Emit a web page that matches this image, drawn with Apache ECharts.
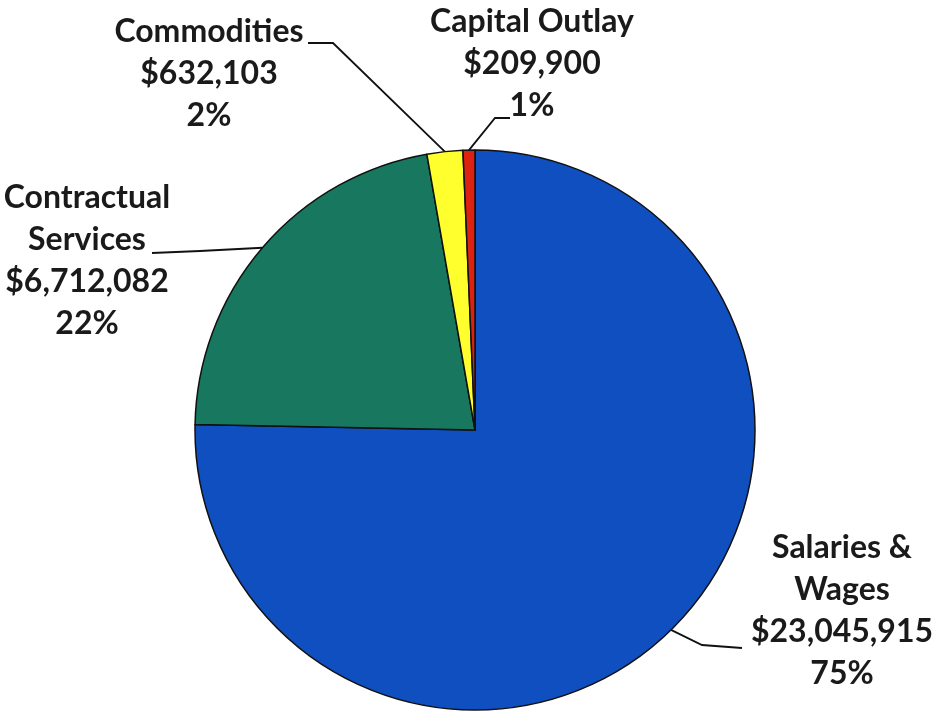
<!DOCTYPE html>
<html>
<head>
<meta charset="utf-8">
<script src="https://cdn.jsdelivr.net/npm/echarts@6/dist/echarts.min.js"></script>
<style>html,body{margin:0;padding:0;background:#fff;}#chart{width:935px;height:715px;}</style>
</head>
<body>
<div id="chart"></div>
<script>
const categories = ['Salaries &\nWages', 'Contractual\nServices', 'Commodities', 'Capital Outlay'];
const amounts = [23045915, 6712082, 632103, 209900];
const sliceColors = ['#0F4FC0', '#17785F', '#FFFF2E', '#DD2211'];

// label placement (layout only): top-center anchor of each label block, leader elbow & end
const labelLayouts = [
  { x: 842, y: 527, elbow: [702, 645], end: [742, 648] },
  { x: 87,  y: 177, elbow: [200, 251], end: [152, 253] },
  { x: 209, y: 11,  elbow: [333, 43],  end: [308, 43] },
  { x: 532, y: 1,   elbow: [495, 118], end: [510, 118] }
];

const chart = echarts.init(document.getElementById('chart'));
const fmt = v => '$' + v.toLocaleString('en-US');
chart.setOption({
  backgroundColor: '#fff',
  animation: false,
  series: [{
    type: 'pie',
    center: [475, 430],
    radius: 280,
    startAngle: 90,
    clockwise: true,
    avoidLabelOverlap: false,
    data: categories.map((c, i) => ({ name: c, value: amounts[i], itemStyle: { color: sliceColors[i] } })),
    itemStyle: { borderColor: '#111', borderWidth: 1.5 },
    label: {
      show: true,
      position: 'outside',
      fontFamily: 'Lato',
      fontWeight: 'bold',
      fontSize: 32,
      lineHeight: 42,
      color: '#1a1a1a',
      align: 'center',
      formatter: p => p.name + '\n' + fmt(p.value) + '\n' + Math.round(p.percent) + '%'
    },
    labelLine: { show: true, length: 20, length2: 20, lineStyle: { color: '#111', width: 1.8 } },
    labelLayout: function (params) {
      const L = labelLayouts[params.dataIndex];
      const p0 = params.labelLinePoints ? params.labelLinePoints[0] : L.elbow;
      return {
        x: L.x, y: L.y, align: 'center', verticalAlign: 'top',
        labelLinePoints: [p0, L.elbow, L.end]
      };
    }
  }]
});
</script>
</body>
</html>
